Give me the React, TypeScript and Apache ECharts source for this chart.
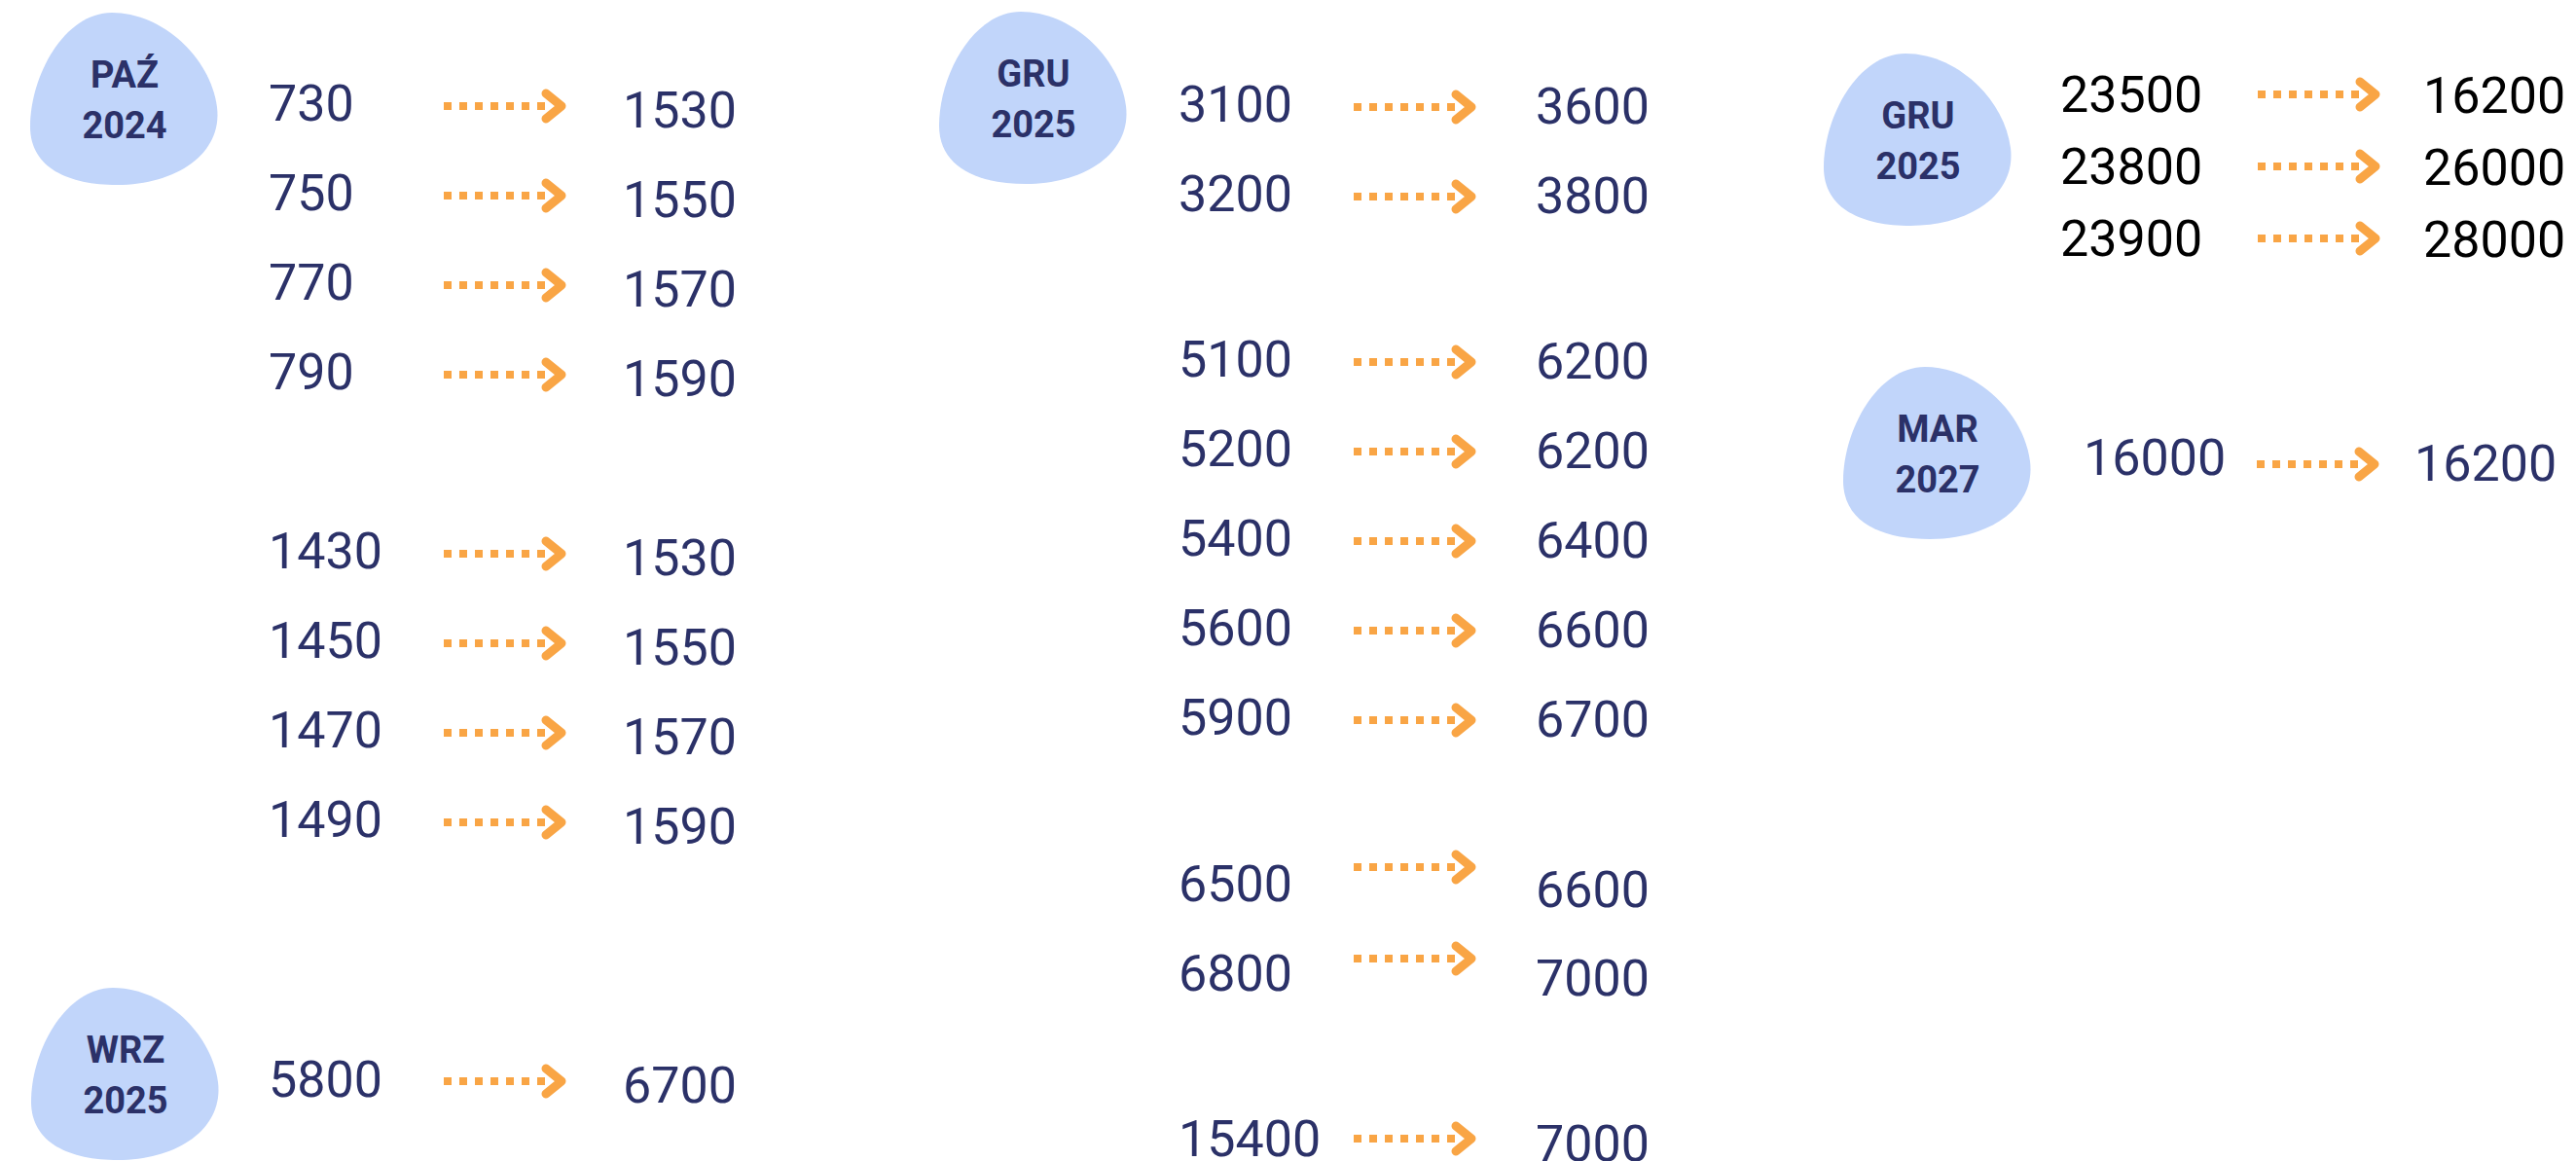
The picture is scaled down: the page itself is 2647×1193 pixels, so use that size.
import React, { useEffect, useRef } from "react";
import * as echarts from "echarts";

// ---- data ----
const months = ["PAŹ", "GRU", "WRZ", "GRU", "MAR"];
const years = ["2024", "2025", "2025", "2025", "2027"];

const paz2024From = [730, 750, 770, 790, 1430, 1450, 1470, 1490];
const paz2024To = [1530, 1550, 1570, 1590, 1530, 1550, 1570, 1590];

const wrz2025From = [5800];
const wrz2025To = [6700];

const gru2025From = [3100, 3200, 5100, 5200, 5400, 5600, 5900, 6500, 6800, 15400];
const gru2025To = [3600, 3800, 6200, 6200, 6400, 6600, 6700, 6600, 7000, 7000];

const gru2025bFrom = [23500, 23800, 23900];
const gru2025bTo = [16200, 26000, 28000];

const mar2027From = [16000];
const mar2027To = [16200];

// ---- layout / styles ----
const W = 2647;
const H = 1193;
const NAVY = "#2b3168";
const BLOB = "#c1d5fa";
const ORANGE = "#f9a545";
const FONT = "Roboto";
const NUM_SIZE = 52;
const LABEL_SIZE = 38;

const seq = (start: number, n: number, step: number) =>
  Array.from({ length: n }, (_, i) => start + i * step);

const BLOB_PATH =
  "M84 0 C135 0 185 45 192 97 C198 145 150 177 89 177 C40 177 0 160 0 117 C0 65 35 0 84 0 Z";

type Block = {
  idx: number;
  from: number[];
  to: number[];
  blob: [number, number];
  xs: [number, number, number];
  baselines: number[];
  rightDy: number[];
  arrowDy: number[];
  color: string;
};

const fill = (n: number, v: number) => Array.from({ length: n }, () => v);

const blocks: Block[] = [
  {
    idx: 0,
    from: paz2024From,
    to: paz2024To,
    blob: [31, 13],
    xs: [276, 456, 640],
    baselines: [...seq(124, 4, 92), ...seq(584, 4, 92)],
    rightDy: fill(8, 7),
    arrowDy: fill(8, -15),
    color: NAVY,
  },
  {
    idx: 2,
    from: wrz2025From,
    to: wrz2025To,
    blob: [32, 1015],
    xs: [276, 456, 640],
    baselines: [1127],
    rightDy: [6],
    arrowDy: [-16],
    color: NAVY,
  },
  {
    idx: 1,
    from: gru2025From,
    to: gru2025To,
    blob: [965, 12],
    xs: [1211, 1391, 1578],
    baselines: [...seq(125, 2, 92), ...seq(387, 5, 92), 926, 1018, 1188],
    rightDy: [2, 2, 2, 2, 2, 2, 2, 6, 5, 5],
    arrowDy: [-15, -15, -15, -15, -15, -15, -15, -35, -33, -18],
    color: NAVY,
  },
  {
    idx: 3,
    from: gru2025bFrom,
    to: gru2025bTo,
    blob: [1874, 55],
    xs: [2117, 2320, 2490],
    baselines: seq(115, 3, 74),
    rightDy: fill(3, 1),
    arrowDy: fill(3, -18),
    color: "#000000",
  },
  {
    idx: 4,
    from: mar2027From,
    to: mar2027To,
    blob: [1894, 377],
    xs: [2141, 2319, 2481],
    baselines: [488],
    rightDy: [6],
    arrowDy: [-11],
    color: NAVY,
  },
];

function numText(x: number, baseline: number, v: number, color: string) {
  return {
    type: "text",
    silent: true,
    style: {
      text: String(v),
      x,
      y: baseline - 18,
      fill: color,
      font: `400 ${NUM_SIZE}px ${FONT}`,
      align: "left",
      verticalAlign: "middle",
    },
  };
}

function arrow(x0: number, y: number) {
  return [
    {
      type: "line",
      silent: true,
      shape: { x1: x0, y1: y, x2: x0 + 104, y2: y },
      style: { stroke: ORANGE, lineWidth: 8, lineDash: [8, 8], lineCap: "butt" },
    },
    {
      type: "polyline",
      silent: true,
      shape: {
        points: [
          [x0 + 105, y - 13],
          [x0 + 121, y],
          [x0 + 105, y + 13],
        ],
      },
      style: {
        stroke: ORANGE,
        fill: null,
        lineWidth: 9,
        lineCap: "round",
        lineJoin: "round",
      },
    },
  ];
}

function buildElements() {
  const els: any[] = [];
  blocks.forEach((b) => {
    const [bx, by] = b.blob;
    els.push({
      type: "blob",
      silent: true,
      x: bx,
      y: by,
      scaleX: 1,
      scaleY: 1,
      style: { fill: BLOB },
    });
    els.push({
      type: "text",
      silent: true,
      style: {
        text: months[b.idx],
        x: bx + 97,
        y: by + 77 - 13,
        fill: NAVY,
        font: `700 ${LABEL_SIZE}px ${FONT}`,
        align: "center",
        verticalAlign: "middle",
      },
    });
    els.push({
      type: "text",
      silent: true,
      style: {
        text: years[b.idx],
        x: bx + 97,
        y: by + 129 - 13,
        fill: NAVY,
        font: `700 ${LABEL_SIZE}px ${FONT}`,
        align: "center",
        verticalAlign: "middle",
      },
    });
    b.from.forEach((v, i) => {
      const base = b.baselines[i];
      els.push(numText(b.xs[0], base, v, b.color));
      els.push(...arrow(b.xs[1], base + b.arrowDy[i]));
      els.push(numText(b.xs[2], base + b.rightDy[i], b.to[i], b.color));
    });
  });
  return els;
}

let registered = false;
function ensureShape() {
  if (registered) return;
  echarts.graphic.registerShape("blob", echarts.graphic.extendPath(BLOB_PATH, {}) as any);
  registered = true;
}

export default function App() {
  const ref = useRef<HTMLDivElement>(null);
  useEffect(() => {
    document.body.style.margin = "0";
    ensureShape();
    const chart = echarts.init(ref.current!, undefined, { renderer: "svg", width: W, height: H });
    chart.setOption({
      animation: false,
      backgroundColor: "#ffffff",
      graphic: { elements: buildElements() },
    });
    return () => chart.dispose();
  }, []);
  return <div ref={ref} style={{ width: W, height: H, background: "#fff" }} />;
}
